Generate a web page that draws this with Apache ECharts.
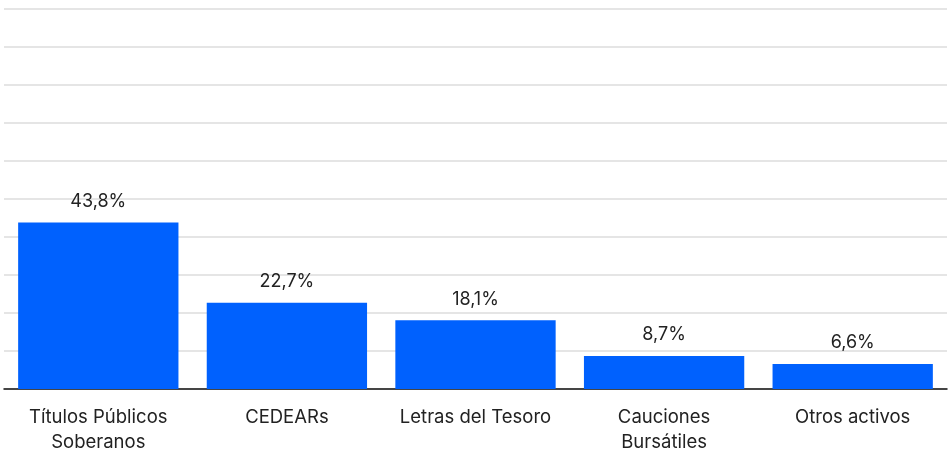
<!DOCTYPE html>
<html><head><meta charset="utf-8">
<script src="https://cdn.jsdelivr.net/npm/echarts@6/dist/echarts.min.js"></script>
<style>html,body{margin:0;padding:0;background:#fff}#c{width:952px;height:455px}</style>
</head><body><div id="c"></div>
<script>
const categories = ['Títulos Públicos\nSoberanos', 'CEDEARs', 'Letras del Tesoro', 'Cauciones\nBursátiles', 'Otros activos'];
const values = [43.8, 22.7, 18.1, 8.7, 6.6];
const chart = echarts.init(document.getElementById('c'), null, {renderer: 'canvas'});
chart.setOption({
  animation: false,
  grid: {left: 4, right: 5, top: 8.7, bottom: 62, containLabel: false},
  xAxis: {
    type: 'category', data: categories,
    axisLine: {lineStyle: {color: '#111', width: 1.5}},
    axisTick: {show: false},
    axisLabel: {color: '#222', fontSize: 18.5, fontFamily: 'Inter', lineHeight: 25, margin: 16, interval: 0}
  },
  yAxis: {
    type: 'value', min: 0, max: 100, interval: 10,
    axisLabel: {show: false}, axisLine: {show: false}, axisTick: {show: false},
    splitLine: {lineStyle: {color: '#dcdcdc', width: 1.5}}
  },
  series: [{
    type: 'bar', data: values, barWidth: '85%',
    itemStyle: {color: '#0061FE'},
    label: {show: true, position: 'top', distance: 12, color: '#222', fontSize: 18, fontFamily: 'Inter',
      formatter: p => p.value.toFixed(1).replace('.', ',') + '%'}
  }]
});
</script></body></html>
